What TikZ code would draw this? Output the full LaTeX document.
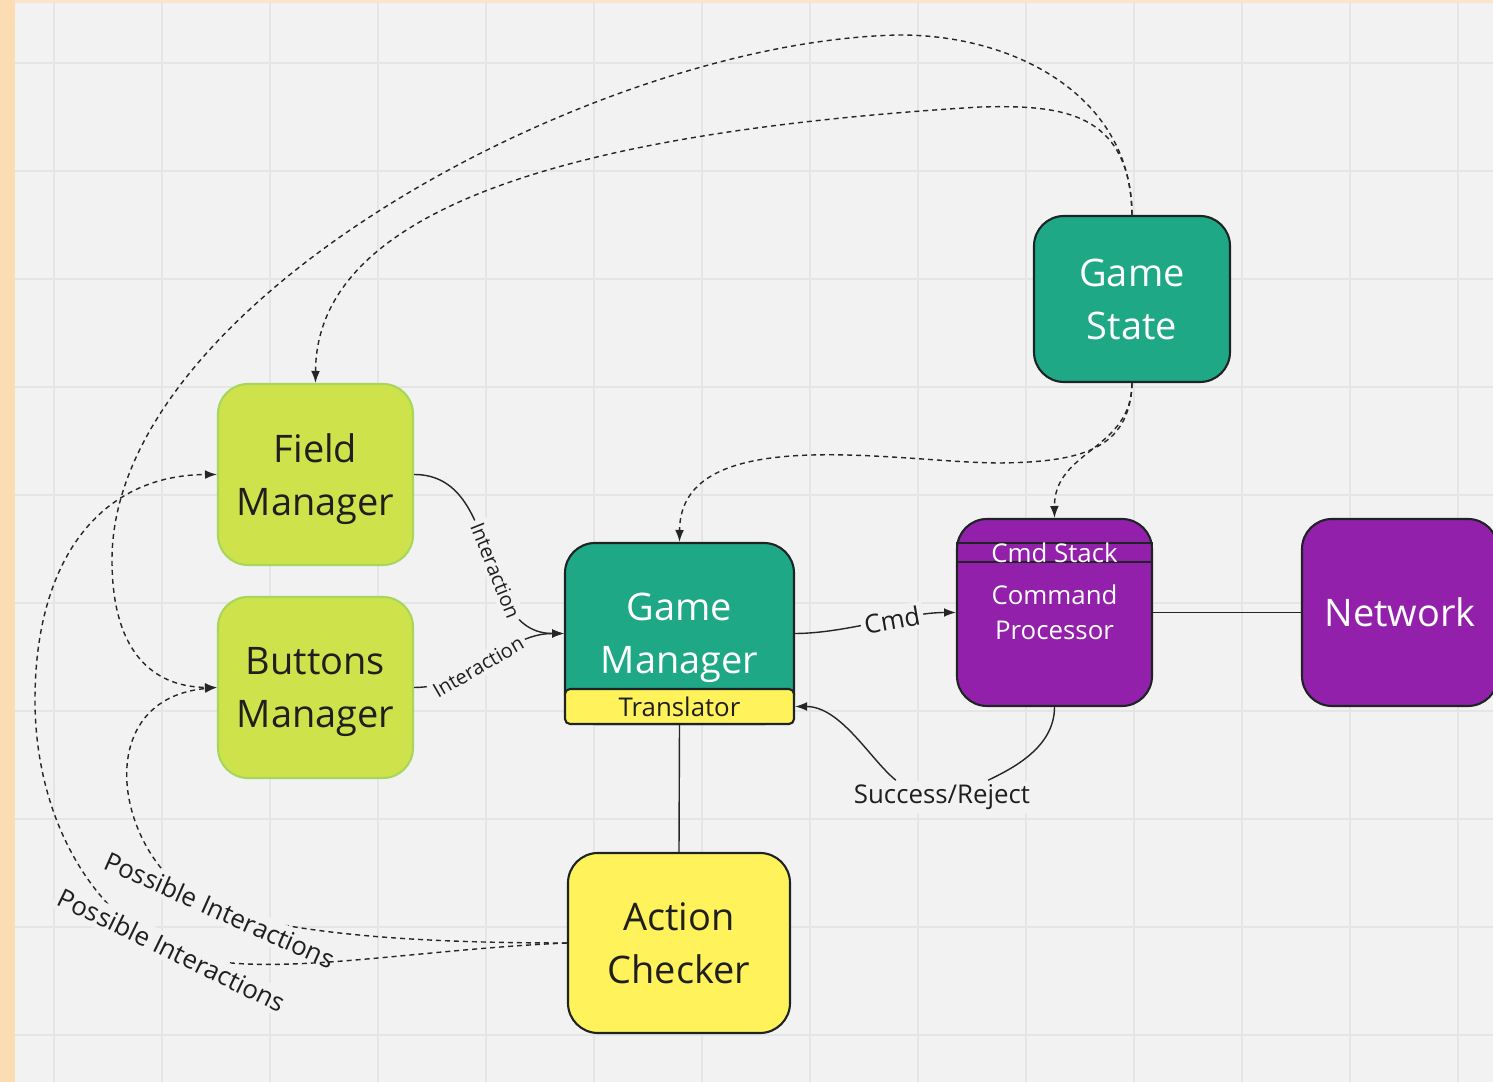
\documentclass[tikz,border=0pt]{standalone}
\usepackage{fontspec}
\setmainfont{Open Sans}
\usetikzlibrary{arrows.meta}
\definecolor{bgcol}{HTML}{F2F2F2}
\definecolor{gridcol}{HTML}{E5E5E5}
\definecolor{peach}{HTML}{FBDCB3}
\definecolor{peachtop}{HTML}{FCE3CB}
\definecolor{limefill}{HTML}{CEE34B}
\definecolor{limeline}{HTML}{A8D65C}
\definecolor{tealfill}{HTML}{1EA886}
\definecolor{purplefill}{HTML}{9320AB}
\definecolor{yellowfill}{HTML}{FFF25A}
\definecolor{boxline}{HTML}{1E2424}
\newcommand{\boxfnt}{\fontsize{10.8}{15.1}\selectfont}
\newcommand{\lblfnt}{\fontsize{7.35}{10}\selectfont}
\newcommand{\tinyfnt}{\fontsize{5.7}{7}\selectfont}
\tikzset{every picture/.style={line width=0.4pt}}
\tikzstyle{block}=[rounded corners=3mm,minimum width=19.5mm,minimum height=18.1mm,inner sep=0pt,align=center,font=\boxfnt,text depth=0pt,line width=0.6pt]
\tikzstyle{limebox}=[block,fill=limefill,draw=limeline,text=black!88]
\tikzstyle{tealbox}=[block,fill=tealfill,draw=boxline,text=white]
\tikzstyle{purplebox}=[block,fill=purplefill,draw=boxline,text=white]
\tikzstyle{yellowbox}=[block,fill=yellowfill,draw=boxline,text=black!88]
\tikzstyle{lbl}=[fill=bgcol,inner sep=1pt,font=\lblfnt,text=black!88]
\tikzstyle{conn}=[draw=black!85,line width=0.4pt]
\tikzstyle{dashy}=[conn,dash pattern=on 0.5mm off 0.4mm]

\begin{document}
\begin{tikzpicture}[x=0.1mm,y=-0.1mm,>={Latex[length=3.4pt,width=2.5pt]}]
\useasboundingbox (0,0) rectangle (1493,1082);
\clip (0,0) rectangle (1493,1082);
\fill[bgcol] (0,0) rectangle (1493,1082);
\foreach \x in {54,162,...,1458} \draw[gridcol,line width=0.6pt] (\x,0) -- (\x,1082);
\foreach \y in {63,171,...,1035} \draw[gridcol,line width=0.6pt] (0,\y) -- (1493,\y);
\fill[peach] (0,0) rectangle (15,1082);
\fill[peachtop] (15,0) rectangle (1493,3);

\node[limebox] (FM) at (315.5,474.5) {Field\\Manager};
\node[limebox] (BM) at (315.5,687.5) {Buttons\\Manager};
\node[tealbox,minimum width=22.9mm] (GM) at (679.5,633.5) {Game\\Manager};
\node[yellowbox,rounded corners=0.5mm,minimum width=22.9mm,minimum height=3.5mm,font=\lblfnt,text depth=] (TR) at (679.5,706.5) {Translator};
\node[tealbox,minimum width=19.6mm,minimum height=16.6mm] (GS) at (1132,299) {Game\\State};
\node[purplebox,minimum height=18.7mm,font=\lblfnt] (CP) at (1054.5,612.5) {Command\\Processor};
\node[draw=boxline,line width=0.6pt,minimum width=19.5mm,minimum height=1.9mm,inner sep=0pt,font=\lblfnt,text=white] (CS) at (1054.5,552.5) {Cmd Stack};
\node[purplebox,minimum width=19.6mm,minimum height=18.7mm] (NW) at (1400,612.5) {Network};
\node[yellowbox,minimum width=22.2mm,minimum height=18mm] (AC) at (679,943) {Action\\Checker};
\node[lbl] (SR) at (942,797) {Success/Reject};

% solid links
\draw[conn,->] (FM.east) .. controls +(90,0) and +(-90,0) .. (GM.west) node[lbl,font=\tinyfnt,sloped,pos=0.57] {Interaction};
\draw[conn,->] (BM.east) .. controls +(60,0) and +(-60,0) .. (GM.west) node[lbl,font=\tinyfnt,sloped,pos=0.42] {Interaction};
\draw[conn,->] (GM.east) .. controls +(50,0) and +(-50,0) .. (CP.west) node[lbl,sloped,pos=0.6] {Cmd};
\draw[conn] (CP.east) -- (NW.west);
\draw[conn] (TR.south) -- (AC.north);
\draw[conn] (CP.south) .. controls +(0,40) and +(25,-12) .. (SR.20);
\draw[conn,->] (SR.160) .. controls +(-25,-20) and +(46,0) .. (TR.east);

% dashed links
\draw[dashy,->] (GS.north) .. controls (1132,100) and (1020,35) .. (900,35) .. controls (600,40) and (112,300) .. (112,560) .. controls (112,660) and (160,687) .. (BM.west);
\draw[dashy,->] (GS.north) .. controls (1130,110) and (1060,105) .. (980,107) .. controls (600,130) and (316,200) .. (FM.north);
\draw[dashy,->] (GS.south) .. controls (1132,450) and (1054,450) .. (CP.north);
\draw[dashy,->] (GS.south) .. controls (1130,450) and (1080,462) .. (1000,463) .. controls (900,463) and (680,420) .. (GM.north);
\draw[dashy,->] (AC.west) .. controls (420,943) and (300,935) .. (220,910) node[lbl,rotate=-24] (PI1) {Possible Interactions} .. controls (119,878) and (80,700) .. (BM.west);
\draw[dashy,->] (AC.west) .. controls (400,950) and (250,983) .. (172,950) node[lbl,rotate=-26] (PI2) {Possible Interactions} .. controls (94,917) and (35,820) .. (35,700) .. controls (35,560) and (100,475) .. (FM.west);
\end{tikzpicture}
\end{document}
